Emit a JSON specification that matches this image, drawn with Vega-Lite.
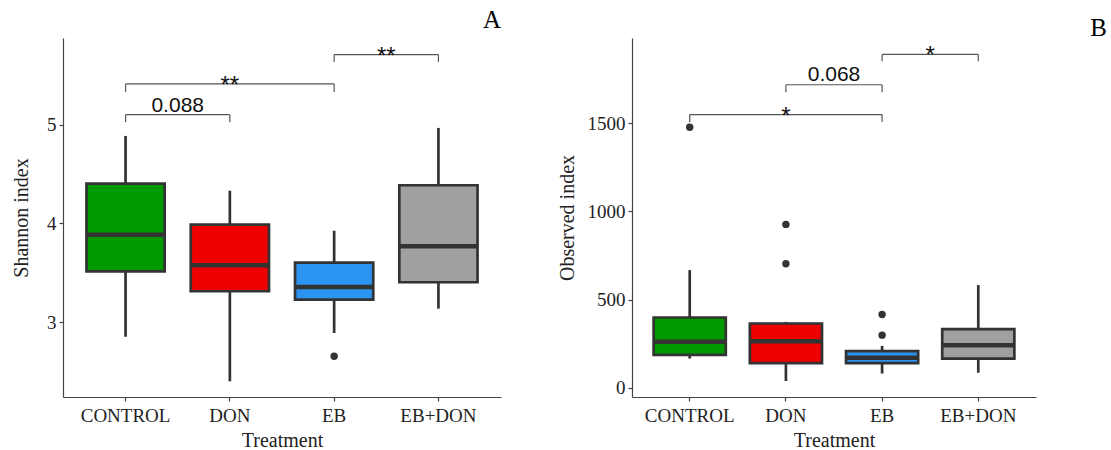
{
  "$schema": "https://vega.github.io/schema/vega-lite/v6.json",
  "background": "white",
  "padding": {"left": 11, "top": 8, "right": 0, "bottom": 0},
  "spacing": 56,
  "config": {
    "view": {"stroke": null},
    "axis": {
      "grid": false,
      "domainColor": "#444444",
      "domainWidth": 1.2,
      "tickColor": "#444444",
      "tickWidth": 1.2,
      "tickSize": 4,
      "labelFont": "Liberation Serif",
      "labelFontSize": 19,
      "labelColor": "#222222",
      "labelPadding": 3,
      "titleFont": "Liberation Serif",
      "titleFontSize": 20,
      "titleFontWeight": "normal",
      "titleColor": "#222222"
    }
  },
  "datasets": {
    "statsA": [
      {"Treatment": "CONTROL", "lo": 2.854, "q1": 3.516, "med": 3.887, "q3": 4.403, "hi": 4.886},
      {"Treatment": "DON", "lo": 2.403, "q1": 3.314, "med": 3.577, "q3": 3.988, "hi": 4.332},
      {"Treatment": "EB", "lo": 2.892, "q1": 3.229, "med": 3.357, "q3": 3.603, "hi": 3.927},
      {"Treatment": "EB+DON", "lo": 3.138, "q1": 3.405, "med": 3.769, "q3": 4.387, "hi": 4.967}
    ],
    "outA": [
      {"Treatment": "EB", "value": 2.656}
    ],
    "brA": [
      {"x1": 1, "x2": 2, "xm": 1.5, "y": 5.101, "yb": 5.024, "label": "0.088"},
      {"x1": 1, "x2": 3, "xm": 2, "y": 5.412, "yb": 5.331, "label": "**"},
      {"x1": 3, "x2": 4, "xm": 3.5, "y": 5.709, "yb": 5.635, "label": "**"}
    ],
    "statsB": [
      {"Treatment": "CONTROL", "lo": 165, "q1": 186, "med": 261, "q3": 398, "hi": 667},
      {"Treatment": "DON", "lo": 38, "q1": 139, "med": 264, "q3": 364, "hi": 373},
      {"Treatment": "EB", "lo": 80, "q1": 139, "med": 170, "q3": 207, "hi": 237},
      {"Treatment": "EB+DON", "lo": 85, "q1": 165, "med": 241, "q3": 332, "hi": 582}
    ],
    "outB": [
      {"Treatment": "CONTROL", "value": 1477},
      {"Treatment": "DON", "value": 926},
      {"Treatment": "DON", "value": 703},
      {"Treatment": "EB", "value": 415},
      {"Treatment": "EB", "value": 298}
    ],
    "brB": [
      {"x1": 1, "x2": 3, "xm": 2, "y": 1549, "yb": 1506, "label": "*"},
      {"x1": 2, "x2": 3, "xm": 2.5, "y": 1718, "yb": 1676, "label": "0.068"},
      {"x1": 3, "x2": 4, "xm": 3.5, "y": 1890, "yb": 1851, "label": "*"}
    ]
  },
  "hconcat": [
    {
      "width": 438,
      "height": 359,
      "title": {"text": "A", "anchor": "end", "font": "Liberation Serif", "fontSize": 25, "fontWeight": "normal", "color": "#000000", "baseline": "bottom", "offset": -20},
      "resolve": {"scale": {"x": "independent"}},
      "layer": [
        {
          "data": {"name": "statsA"},
          "encoding": {
            "x": {"field": "Treatment", "type": "nominal", "sort": ["CONTROL", "DON", "EB", "EB+DON"],
                  "scale": {"type": "band", "paddingInner": 0.25, "paddingOuter": 0.225},
                  "axis": {"title": "Treatment", "labelAngle": 0, "labelPadding": 5, "titlePadding": 5}}
          },
          "layer": [
            {
              "mark": {"type": "rule", "color": "#333333", "strokeWidth": 2.7},
              "encoding": {
                "y": {"field": "lo", "type": "quantitative", "scale": {"domain": [2.244, 5.877], "nice": false, "zero": false},
                      "axis": {"title": "Shannon index", "values": [3, 4, 5], "format": "d", "titlePadding": 15}},
                "y2": {"field": "hi"}
              }
            },
            {
              "mark": {"type": "bar", "stroke": "#333333", "strokeWidth": 2.7, "opacity": 1},
              "encoding": {
                "y": {"field": "q1", "type": "quantitative"},
                "y2": {"field": "q3"},
                "fill": {"field": "Treatment", "type": "nominal", "legend": null,
                         "scale": {"domain": ["CONTROL", "DON", "EB", "EB+DON"], "range": ["#009900", "#ee0000", "#2b93f0", "#a0a0a0"]}}
              }
            },
            {
              "mark": {"type": "tick", "color": "#333333", "thickness": 4.5, "size": 78, "opacity": 1},
              "encoding": {
                "y": {"field": "med", "type": "quantitative"}
              }
            },
            {
              "data": {"name": "outA"},
              "mark": {"type": "point", "filled": true, "color": "#333333", "size": 55, "opacity": 1},
              "encoding": {
                "y": {"field": "value", "type": "quantitative"}
              }
            }
          ]
        },
        {
          "data": {"name": "brA"},
          "encoding": {},
          "layer": [
            {
              "mark": {"type": "rule", "color": "#555555", "strokeWidth": 1.2},
              "encoding": {
                "x": {"field": "x1", "type": "quantitative", "scale": {"domain": [0.4, 4.6], "nice": false, "zero": false}, "axis": null},
                "x2": {"field": "x2"},
                "y": {"field": "y", "type": "quantitative"}
              }
            },
            {
              "transform": [{"fold": ["x1", "x2"], "as": ["end", "xe"]}],
              "mark": {"type": "rule", "color": "#555555", "strokeWidth": 1.2},
              "encoding": {
                "x": {"field": "xe", "type": "quantitative", "axis": null},
                "y": {"field": "y", "type": "quantitative"},
                "y2": {"field": "yb"}
              }
            },
            {
              "transform": [{"filter": "indexof(datum.label, '*') < 0"}],
              "mark": {"type": "text", "font": "Liberation Sans", "fontSize": 21, "color": "#111111", "baseline": "alphabetic", "align": "center", "dy": -2.5},
              "encoding": {
                "x": {"field": "xm", "type": "quantitative", "axis": null},
                "y": {"field": "y", "type": "quantitative"},
                "text": {"field": "label"}
              }
            },
            {
              "transform": [{"filter": "indexof(datum.label, '*') >= 0"}],
              "mark": {"type": "text", "font": "Liberation Sans", "fontSize": 24, "color": "#111111", "baseline": "alphabetic", "align": "center", "dy": 9},
              "encoding": {
                "x": {"field": "xm", "type": "quantitative", "axis": null},
                "y": {"field": "y", "type": "quantitative"},
                "text": {"field": "label"}
              }
            }
          ]
        }
      ]
    },
    {
      "width": 404,
      "height": 359,
      "title": {"text": "B", "anchor": "end", "font": "Liberation Serif", "fontSize": 25, "fontWeight": "normal", "color": "#000000", "baseline": "bottom", "offset": -28, "dx": 71},
      "resolve": {"scale": {"x": "independent"}},
      "layer": [
        {
          "data": {"name": "statsB"},
          "encoding": {
            "x": {"field": "Treatment", "type": "nominal", "sort": ["CONTROL", "DON", "EB", "EB+DON"],
                  "scale": {"type": "band", "paddingInner": 0.25, "paddingOuter": 0.225},
                  "axis": {"title": "Treatment", "labelAngle": 0, "labelPadding": 5, "titlePadding": 5}}
          },
          "layer": [
            {
              "mark": {"type": "rule", "color": "#333333", "strokeWidth": 2.7},
              "encoding": {
                "y": {"field": "lo", "type": "quantitative", "scale": {"domain": [-52.8, 1983], "nice": false, "zero": false},
                      "axis": {"title": "Observed index", "values": [0, 500, 1000, 1500], "format": "d", "titlePadding": 10}},
                "y2": {"field": "hi"}
              }
            },
            {
              "mark": {"type": "bar", "stroke": "#333333", "strokeWidth": 2.7, "opacity": 1},
              "encoding": {
                "y": {"field": "q1", "type": "quantitative"},
                "y2": {"field": "q3"},
                "fill": {"field": "Treatment", "type": "nominal", "legend": null,
                         "scale": {"domain": ["CONTROL", "DON", "EB", "EB+DON"], "range": ["#009900", "#ee0000", "#2b93f0", "#a0a0a0"]}}
              }
            },
            {
              "mark": {"type": "tick", "color": "#333333", "thickness": 4.5, "size": 72, "opacity": 1},
              "encoding": {
                "y": {"field": "med", "type": "quantitative"}
              }
            },
            {
              "data": {"name": "outB"},
              "mark": {"type": "point", "filled": true, "color": "#333333", "size": 55, "opacity": 1},
              "encoding": {
                "y": {"field": "value", "type": "quantitative"}
              }
            }
          ]
        },
        {
          "data": {"name": "brB"},
          "encoding": {},
          "layer": [
            {
              "mark": {"type": "rule", "color": "#555555", "strokeWidth": 1.2},
              "encoding": {
                "x": {"field": "x1", "type": "quantitative", "scale": {"domain": [0.4, 4.6], "nice": false, "zero": false}, "axis": null},
                "x2": {"field": "x2"},
                "y": {"field": "y", "type": "quantitative"}
              }
            },
            {
              "transform": [{"fold": ["x1", "x2"], "as": ["end", "xe"]}],
              "mark": {"type": "rule", "color": "#555555", "strokeWidth": 1.2},
              "encoding": {
                "x": {"field": "xe", "type": "quantitative", "axis": null},
                "y": {"field": "y", "type": "quantitative"},
                "y2": {"field": "yb"}
              }
            },
            {
              "transform": [{"filter": "indexof(datum.label, '*') < 0"}],
              "mark": {"type": "text", "font": "Liberation Sans", "fontSize": 21, "color": "#111111", "baseline": "alphabetic", "align": "center", "dy": -3.5},
              "encoding": {
                "x": {"field": "xm", "type": "quantitative", "axis": null},
                "y": {"field": "y", "type": "quantitative"},
                "text": {"field": "label"}
              }
            },
            {
              "transform": [{"filter": "indexof(datum.label, '*') >= 0"}],
              "mark": {"type": "text", "font": "Liberation Sans", "fontSize": 24, "color": "#111111", "baseline": "alphabetic", "align": "center", "dy": 9},
              "encoding": {
                "x": {"field": "xm", "type": "quantitative", "axis": null},
                "y": {"field": "y", "type": "quantitative"},
                "text": {"field": "label"}
              }
            }
          ]
        }
      ]
    }
  ]
}
